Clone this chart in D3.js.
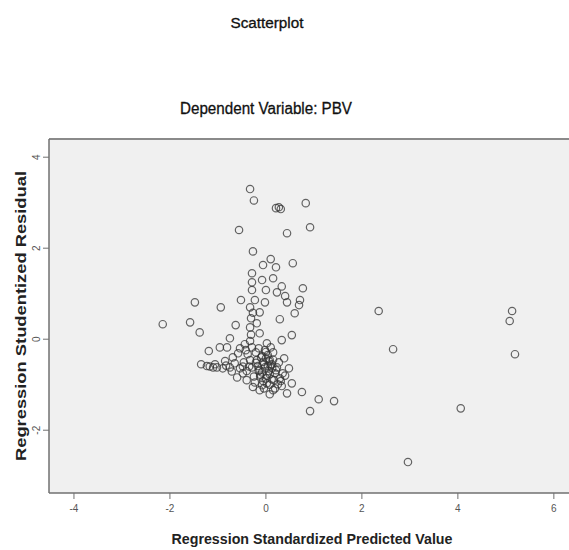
<!DOCTYPE html>
<html>
<head>
<meta charset="utf-8">
<script src="https://cdn.jsdelivr.net/npm/d3@7"></script>
<style>
  body { margin: 0; background: #fff; }
  text { font-family: "Liberation Sans", Arial, sans-serif; }
</style>
</head>
<body>
<div id="chart"></div>
<script>
// standardized predicted value (x) and studentized residual (y)
const predicted = [
  -0.33, -0.25, 0.21, 0.31, 0.27, 0.83, -0.56, 0.44, 0.92, -0.27,
  0.10, -0.06, 0.21, 0.56, -0.29, -0.08, 0.15, -0.29, 0.33, 0.77,
  0.00, 0.23, 0.40, 0.71, 0.69, -0.29, -0.23, -0.02, 0.44, -0.52,
  -0.94, -0.33, -0.13, 0.60, 0.29, -0.63, -0.31, -0.33,
  -2.15, -1.48, -1.58, -1.38, -1.19,
  2.35, 2.65, 5.13, 5.08, 5.19, 4.06, 2.96,
  0.75, 1.10, 1.42, 0.92, 0.44, 0.54, 0.35,
  0.54, 0.33, 0.15, -0.19, -0.13, 0.02, -0.75, -0.81, -0.96,
  -1.02, -0.90, -0.75, -0.60, -0.54, -0.33, -0.19, -0.13, -0.27, -0.13,
  0.02, 0.15,
  -0.08, 0.00, 0.08, -0.04, 0.04, 0.13, -0.17, -0.08, 0.08, 0.21,
  0.00, 0.17, 0.25, -0.21, -0.38, -0.46, -0.54, -1.35, -1.23, -1.10,
  -0.65, -0.40, -0.23, -0.08, 0.08, 0.19, 0.33, -0.33, -0.29, -0.42,
  -0.69, -0.85, -0.48, 0.27, 0.10, -0.02, -0.44, -0.58, -0.71, -0.15,
  0.38, 0.48, -0.06, -0.35, 0.06, -0.25, -0.12, 0.00, 0.12, 0.29,
  -0.10, 0.06, -0.02, 0.10, -0.15, 0.02, 0.12, -0.06, 0.19, -0.21,
  0.04, 0.15, -0.12, 0.23, -0.04, 0.08, -0.29, -0.40, -0.48, -1.06,
  -1.17, -0.83, 0.31, 0.40, -0.31, -0.27
];
const residual = [
  3.30, 3.05, 2.88, 2.86, 2.90, 2.99, 2.40, 2.33, 2.46, 1.93,
  1.76, 1.63, 1.58, 1.67, 1.45, 1.30, 1.34, 1.25, 1.16, 1.12,
  1.08, 1.03, 0.95, 0.86, 0.75, 1.08, 0.86, 0.81, 0.81, 0.86,
  0.70, 0.70, 0.59, 0.57, 0.44, 0.31, 0.46, 0.26,
  0.33, 0.81, 0.37, 0.15, -0.26,
  0.62, -0.22, 0.62, 0.40, -0.33, -1.52, -2.70,
  -1.16, -1.32, -1.36, -1.58, -1.19, -0.97, -0.75,
  0.09, -0.02, -0.29, 0.35, 0.13, -0.09, 0.02, -0.18, -0.18,
  -0.62, -0.64, -0.62, -0.84, -0.20, -0.46, -0.46, -0.68, -1.05, -1.12,
  -0.97, -1.12,
  -0.37, -0.42, -0.46, -0.55, -0.59, -0.64, -0.59, -0.73, -0.77, -0.68,
  -0.86, -0.90, -0.99, -0.29, -0.33, -0.51, -0.64, -0.55, -0.59, -0.62,
  -0.53, -0.90, -0.95, -1.01, -1.21, -1.08, -1.03, -0.04, -0.18, -0.24,
  -0.40, -0.48, -0.75, -0.51, -0.18, -0.24, -0.11, -0.31, -0.71, -0.20,
  -0.42, -0.64, -0.50, -0.60, -0.70, -0.82, -0.78, -0.28, -0.55, -0.86,
  -0.40, -0.48, -0.62, -0.58, -0.70, -0.80, -0.88, -0.92, -0.75, -0.52,
  -0.35, -0.45, -0.82, -0.62, -1.08, -1.00, -0.62, -0.70, -0.60, -0.55,
  -0.60, -0.58, -0.92, -0.80, 0.10, 0.58
];
const xTicks = [-4, -2, 0, 2, 4, 6];
const yTicks = [-2, 0, 2, 4];

const W = 569, H = 550;
const plot = { left: 49, right: 574, top: 139, bottom: 493 };

const svg = d3.select("#chart").append("svg")
  .attr("width", W).attr("height", H);

const x = d3.scaleLinear().domain([-4.52, 6.42]).range([plot.left, plot.right]);
const y = d3.scaleLinear().domain([-3.38, 4.40]).range([plot.bottom, plot.top]);

// plot background
svg.append("rect")
  .attr("x", plot.left).attr("y", plot.top)
  .attr("width", plot.right - plot.left).attr("height", plot.bottom - plot.top)
  .attr("fill", "#f0f0f0");

// frame
svg.append("line")
  .attr("x1", plot.left).attr("x2", plot.right)
  .attr("y1", plot.top).attr("y2", plot.top)
  .style("stroke", "#8a8a8a").style("stroke-width", 2);
svg.append("line")
  .attr("x1", plot.left).attr("x2", plot.left)
  .attr("y1", plot.top).attr("y2", plot.bottom)
  .style("stroke", "#707070").style("stroke-width", 1.5);
svg.append("line")
  .attr("x1", plot.left).attr("x2", plot.right)
  .attr("y1", plot.bottom).attr("y2", plot.bottom)
  .style("stroke", "#707070").style("stroke-width", 1.5);

// x ticks
const xt = svg.append("g").selectAll("g").data(xTicks).enter().append("g");
xt.append("line")
  .attr("x1", d => x(d)).attr("x2", d => x(d))
  .attr("y1", plot.bottom).attr("y2", plot.bottom + 6)
  .style("stroke", "#707070");
xt.append("text")
  .attr("x", d => x(d)).attr("y", plot.bottom + 19)
  .attr("text-anchor", "middle")
  .attr("font-size", "10px")
  .style("fill", "#555")
  .text(d => d);

// y ticks (labels rotated as in the SPSS output)
const yt = svg.append("g").selectAll("g").data(yTicks).enter().append("g");
yt.append("line")
  .attr("x1", plot.left - 6).attr("x2", plot.left)
  .attr("y1", d => y(d)).attr("y2", d => y(d))
  .style("stroke", "#707070");
yt.append("text")
  .attr("transform", d => "translate(" + (plot.left - 9) + "," + y(d) + ") rotate(-90)")
  .attr("text-anchor", "middle")
  .attr("font-size", "10px")
  .style("fill", "#555")
  .text(d => d);

// points
svg.append("g").selectAll("circle")
  .data(predicted.map((p, i) => [p, residual[i]]))
  .enter().append("circle")
  .attr("cx", d => x(d[0]))
  .attr("cy", d => y(d[1]))
  .attr("r", 3.7)
  .attr("fill", "none")
  .style("stroke", "#333")
  .style("stroke-opacity", 0.75)
  .style("stroke-width", 1.2);

// titles
svg.append("text")
  .attr("x", 267).attr("y", 28)
  .attr("text-anchor", "middle")
  .attr("font-size", "14px")
  .attr("textLength", 73).attr("lengthAdjust", "spacingAndGlyphs")
  .style("fill", "#111")
  .style("stroke", "#111").style("stroke-width", 0.3)
  .text("Scatterplot");
svg.append("text")
  .attr("x", 266).attr("y", 114)
  .attr("text-anchor", "middle")
  .attr("font-size", "16px")
  .attr("textLength", 172).attr("lengthAdjust", "spacingAndGlyphs")
  .style("fill", "#111")
  .style("stroke", "#111").style("stroke-width", 0.3)
  .text("Dependent Variable: PBV");

// axis titles
svg.append("text")
  .attr("x", 312).attr("y", 544)
  .attr("text-anchor", "middle")
  .attr("font-size", "15px")
  .attr("font-weight", "bold")
  .attr("textLength", 281).attr("lengthAdjust", "spacingAndGlyphs")
  .style("fill", "#222")
  .text("Regression Standardized Predicted Value");
svg.append("text")
  .attr("transform", "translate(26," + 316 + ") rotate(-90)")
  .attr("text-anchor", "middle")
  .attr("font-size", "15px")
  .attr("font-weight", "bold")
  .attr("textLength", 290).attr("lengthAdjust", "spacingAndGlyphs")
  .style("fill", "#222")
  .text("Regression Studentized Residual");
</script>
</body>
</html>
